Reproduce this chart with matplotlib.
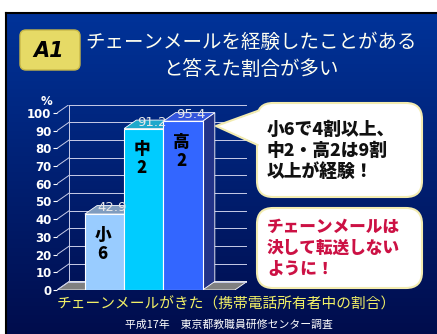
import numpy as np
import matplotlib
matplotlib.use("Agg")
import matplotlib.pyplot as plt
from matplotlib.patches import FancyBboxPatch, Polygon

plt.rcParams['font.family'] = ['Noto Sans CJK JP', 'DejaVu Sans']

# data
groups = ['小\n6', '中\n2', '高\n2']
values = [42.9, 91.2, 95.4]
front_colors = ['#99ccff', '#00ccff', '#3366ff']
top_colors = ['#7f9cbf', '#1fa8cc', '#3355dd']
side_colors = ['#5f7fa8', '#0a88b0', '#223388']
yticks = list(range(0, 101, 10))

title_lines = 'チェーンメールを経験したことがある\nと答えた割合が多い'
bubble1 = '小6で4割以上、\n中2・高2は9割\n以上が経験！'
bubble2 = 'チェーンメールは\n決して転送しない\nように！'
caption = 'チェーンメールがきた（携帯電話所有者中の割合）'
source = '平成17年　東京都教職員研修センター調査'

W, H = 437, 334
fig = plt.figure(figsize=(W / 100, H / 100), dpi=100)

# background slide
bg = fig.add_axes([0, 0, 1, 1], zorder=0)
bg.set_xlim(0, W)
bg.set_ylim(H, 0)
bg.axis('off')
grad = np.linspace(0, 1, 256)[:, None]
top_c = np.array([0.0, 0.2, 0.6])
bot_c = np.array([0.0, 0.05, 0.30])
img = top_c[None, None, :] * (1 - grad[:, :, None]) + bot_c[None, None, :] * grad[:, :, None]
bg.imshow(img, extent=[6, W, H, 13], aspect='auto', zorder=0)
bg.plot([5.5, 5.5], [12.5, H], color='black', lw=1.5, zorder=1)
bg.plot([5.5, W], [12.5, 12.5], color='black', lw=1.5, zorder=1)

# A1 badge
bg.add_patch(FancyBboxPatch((20, 30), 60, 40, boxstyle='round,pad=0,rounding_size=6',
                            fc='#e6da66', ec='#c8b848', lw=1, zorder=2))
bg.text(49, 51, 'A1', fontsize=15, fontweight='heavy', style='italic', color='black',
        ha='center', va='center', family='DejaVu Sans', zorder=3)
bg.text(251, 56, title_lines, fontsize=14, color='#fffff0', ha='center', va='center',
        linespacing=1.35, zorder=3)

bg.text(226, 304, caption, fontsize=10.6, color='#f2f066', ha='center', va='center', zorder=3)
bg.text(229, 325, source, fontsize=7.8, color='white', ha='center', va='center', zorder=3)

# chart
ax = fig.add_axes([57 / W, (H - 290) / H, 190 / W, 185.5 / H], zorder=1)
ax.patch.set_alpha(0)
dx, dy = 0.31, 4.8
xmin, xmax = -1.21, 3.63
xfr = xmax - dx
ax.set_xlim(xmin, xmax)
ax.set_ylim(0, 100 + dy)
for s in ax.spines.values():
    s.set_visible(False)
ax.set_xticks([])
ax.set_yticks(yticks)
ax.set_yticklabels([str(t) for t in yticks], fontweight='bold', family='DejaVu Sans')
ax.tick_params(axis='y', colors='white', length=3, pad=1, labelsize=8.5)
ax.text(xmin - 0.28, 103, '%', color='white', fontsize=8.5, fontweight='bold',
        ha='center', va='bottom', family='DejaVu Sans')

grid_c = '#c8cce8'
ax.add_patch(Polygon([(xmin, 0), (xfr, 0), (xmax, dy), (xmin + dx, dy)],
                     closed=True, fc='#808080', ec='white', lw=0.6, zorder=1))
for t in yticks:
    ax.plot([xmin + dx, xmax], [t + dy, t + dy], color=grid_c, lw=0.7, zorder=1)
    ax.plot([xmin, xmin + dx], [t, t + dy], color=grid_c, lw=0.7, zorder=1)
ax.plot([xmin + dx, xmin + dx], [dy, 100 + dy], color=grid_c, lw=0.7, zorder=1)
ax.plot([xmax, xmax], [dy, 100 + dy], color=grid_c, lw=0.7, zorder=1)

x = np.arange(len(values))
for i, v in enumerate(values):
    ax.add_patch(Polygon([(i + 0.5, 0), (i + 0.5 + dx, dy), (i + 0.5 + dx, v + dy), (i + 0.5, v)],
                         closed=True, fc=side_colors[i], ec='white', lw=0.6, zorder=2))
    ax.add_patch(Polygon([(i - 0.5, v), (i + 0.5, v), (i + 0.5 + dx, v + dy), (i - 0.5 + dx, v + dy)],
                         closed=True, fc=top_colors[i], ec='white', lw=0.6, zorder=2))
ax.bar(x, values, width=1, color=front_colors, edgecolor='white', lw=0.8, zorder=3)
for i, v in enumerate(values):
    ax.text(i + dx / 2 + 0.05, v + dy * 0.75, f'{v}', color='#e8e8e8', fontsize=9.5,
            ha='center', va='center', family='DejaVu Sans', zorder=4)
    ax.text(i - 0.05, v - 17, groups[i], color='black', fontsize=12, fontweight='heavy',
            ha='center', va='center', linespacing=1.05, zorder=4)

# speech bubbles
fg = fig.add_axes([0, 0, 1, 1], zorder=2)
fg.set_xlim(0, W)
fg.set_ylim(H, 0)
fg.axis('off')
bcol = '#f3ecb0'
fg.add_patch(FancyBboxPatch((257, 103), 165, 94, boxstyle='round,pad=0,rounding_size=16',
                            fc='white', ec=bcol, lw=1.5))
fg.add_patch(Polygon([(259, 111), (216, 126), (259, 145)], closed=True, fc='white', ec='none'))
fg.plot([257.5, 216, 257.5], [111, 126, 145], color=bcol, lw=1.5)
fg.add_patch(FancyBboxPatch((257, 208), 165, 80, boxstyle='round,pad=0,rounding_size=16',
                            fc='white', ec=bcol, lw=1.5))
fg.text(267, 151, bubble1, fontsize=12.8, fontweight='heavy', color='#111111',
        ha='left', va='center', linespacing=1.22)
fg.text(267, 248, bubble2, fontsize=12, fontweight='heavy', color='#cc1144',
        ha='left', va='center', linespacing=1.2)

fig.savefig('out.png', dpi=100, facecolor='white')
